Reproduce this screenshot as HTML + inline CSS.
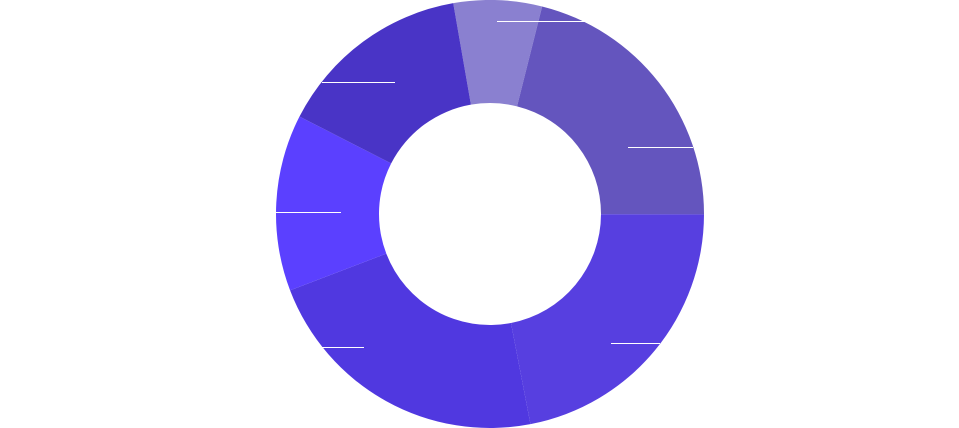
<!DOCTYPE html>
<html><head><meta charset="utf-8">
<style>
html,body{margin:0;padding:0;background:#fff;}
svg{display:block;}
</style></head>
<body>
<svg id="chart" width="959" height="428" viewBox="0 0 959 428" xmlns="http://www.w3.org/2000/svg">
<g id="slices"></g>
<g id="leaders"></g>
</svg>
<script>
const categories = ["A","B","C","D","E","F"];
const values = [24, 76, 79, 80, 48, 53];
const colors = ["#8a80d0","#6455be","#573fe0","#5038e0","#5b40ff","#4934c6"];
const cx = 490, cy = 214, R = 214, r = 111, startDeg = -9.9;
const NS = "http://www.w3.org/2000/svg";
const total = values.reduce((a,b)=>a+b,0);
function pt(deg, rad){ const a = deg*Math.PI/180; return [cx + rad*Math.sin(a), cy - rad*Math.cos(a)]; }
const g = document.getElementById('slices');
let a0 = startDeg;
values.forEach((v,i)=>{
  const a1 = a0 + v/total*360;
  const large = (a1-a0) > 180 ? 1 : 0;
  const p0 = pt(a0,R), p1 = pt(a1,R), q1 = pt(a1,r), q0 = pt(a0,r);
  const d = `M${p0[0]},${p0[1]} A${R},${R} 0 ${large} 1 ${p1[0]},${p1[1]} L${q1[0]},${q1[1]} A${r},${r} 0 ${large} 0 ${q0[0]},${q0[1]} Z`;
  const path = document.createElementNS(NS,'path');
  path.setAttribute('d', d);
  path.setAttribute('fill', colors[i]);
  
  
  g.appendChild(path);
  a0 = a1;
});
// leader lines (labels are white/invisible in reference)
const leaders = [[497,585,21],[628,693,147],[611,660,343],[322,364,347],[276,341,212],[322,395,82]];
const lg = document.getElementById('leaders');
leaders.forEach((l,i)=>{
  const ln = document.createElementNS(NS,'line');
  ln.setAttribute('x1', l[0]); ln.setAttribute('x2', l[1]);
  ln.setAttribute('y1', l[2]+0.5); ln.setAttribute('y2', l[2]+0.5);
  ln.setAttribute('stroke', '#ffffff'); ln.setAttribute('stroke-width', '1');
  
  
  lg.appendChild(ln);
});
</script>
</body></html>
